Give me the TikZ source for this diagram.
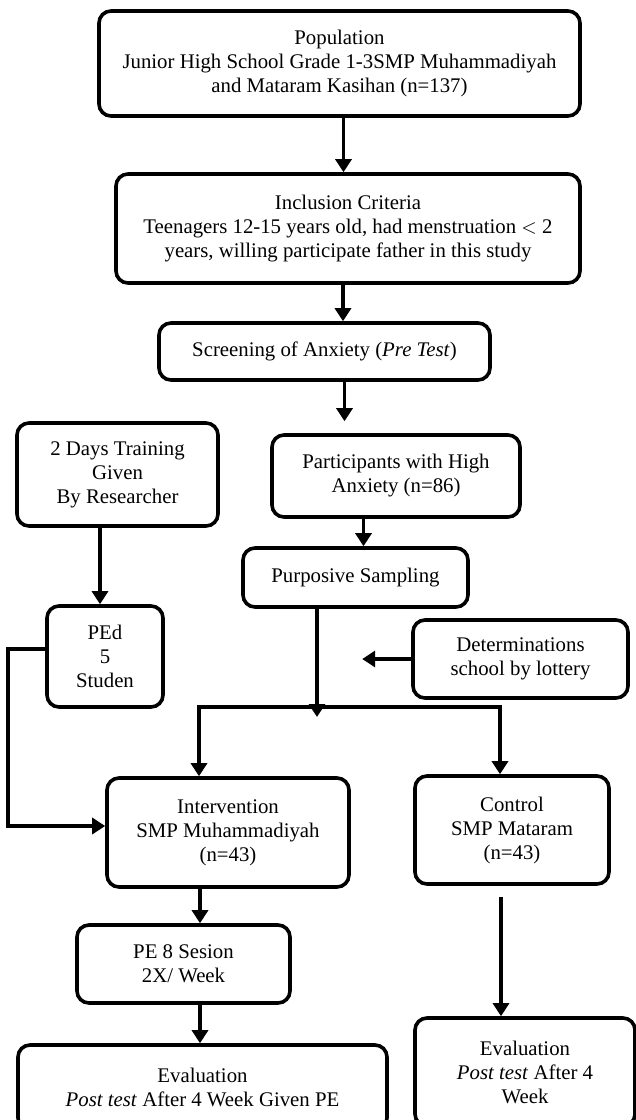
\documentclass[tikz,border=0pt]{standalone}
\usepackage{fontspec}
\setmainfont{Liberation Serif}
\usepackage{tikz}
\usetikzlibrary{arrows.meta}

\begin{document}
\begin{tikzpicture}[x=0.5pt,y=-0.5pt,
  box/.style={draw,line width=1.8pt,rounded corners=6pt,align=center,inner sep=2pt,font=\fontsize{10.4}{12}\selectfont},
  arr/.style={line width=1.8pt,-{Triangle[length=6.5pt,width=8pt]}}]
\useasboundingbox (0,0) rectangle (636,1120);
\node[box,minimum width=240.5pt,minimum height=52.5pt] (pop) at (339.5,63.5) {Population\\Junior High School Grade 1-3SMP Muhammadiyah\\and Mataram Kasihan (n=137)};
\node[box,minimum width=232pt,minimum height=54.5pt] (incl) at (348,228.5) {Inclusion Criteria\\Teenagers 12-15 years old, had menstruation $<$ 2\\years, willing participate father in this study};
\node[box,minimum width=165.5pt,minimum height=28.5pt] (screen) at (324.5,351.5) {Screening of Anxiety (\textit{Pre Test})};
\node[box,minimum width=124pt,minimum height=41pt] (part) at (396,476) {Participants with High\\Anxiety (n=86)};
\node[box,minimum width=112.5pt,minimum height=29.5pt] (purp) at (355.5,577.5) {Purposive Sampling};
\node[box,minimum width=100.5pt,minimum height=51.5pt] (train) at (117.5,474.5) {2 Days Training\\Given\\By Researcher};
\node[box,minimum width=58pt,minimum height=50.5pt] (ped) at (105,656.5) {PEd\\5\\Studen};
\node[box,minimum width=107.5pt,minimum height=39pt] (det) at (520.5,659) {Determinations\\school by lottery};
\node[box,minimum width=121pt,minimum height=54.5pt] (inter) at (228,832.5) {Intervention\\SMP Muhammadiyah\\(n=43)};
\node[box,minimum width=97pt,minimum height=54pt] (ctrl) at (512,830) {Control\\SMP Mataram\\(n=43)};
\node[box,minimum width=106.5pt,minimum height=39pt] (pe8) at (183.5,964) {PE 8 Sesion\\2X/ Week};
\node[box,minimum width=184.5pt,minimum height=42.5pt] (evall) at (202.5,1087.5) {Evaluation\\\textit{Post test} After 4 Week Given PE};
\node[box,minimum width=110pt,minimum height=54pt] (evalr) at (525,1072) {Evaluation\\\textit{Post test} After 4\\Week};
\coordinate (split) at (317,707);
\draw[arr] ([xshift=2pt]pop.south) -- ([xshift=2pt]pop.south |- incl.north);
\draw[arr] ([xshift=-2.5pt]incl.south) -- ([xshift=-2.5pt]incl.south |- screen.north);
\draw[arr,shorten >=6pt] ([xshift=10pt]screen.south) -- ([xshift=10pt]screen.south |- part.north);
\draw[arr] ([xshift=4pt]purp.north |- part.south) -- ([xshift=4pt]purp.north);
\draw[arr,shorten >=-5pt] ([xshift=-19.25pt]purp.south) -- (split);
\draw[arr] (split) -| ([xshift=-14.5pt]inter.north);
\draw[arr] (split) -| ([xshift=-6pt]ctrl.north);
\draw[arr] (det.west) -- ++(-49,0);
\draw[arr] ([xshift=-2.5pt]ped.north |- train.south) -- ([xshift=-2.5pt]ped.north);
\draw[arr] ([yshift=3.75pt]ped.west) -- ++(-37,0) |- ([yshift=3.25pt]inter.west);
\draw[arr] ([xshift=-14pt]inter.south) -- ([xshift=-14pt]inter.south |- pe8.north);
\draw[arr] ([xshift=8.25pt]pe8.south) -- ([xshift=8.25pt]pe8.south |- evall.north);
\draw[arr,shorten <=5.5pt] ([xshift=-5.5pt]ctrl.south) -- ([xshift=-5.5pt]ctrl.south |- evalr.north);
\end{tikzpicture}
\end{document}
